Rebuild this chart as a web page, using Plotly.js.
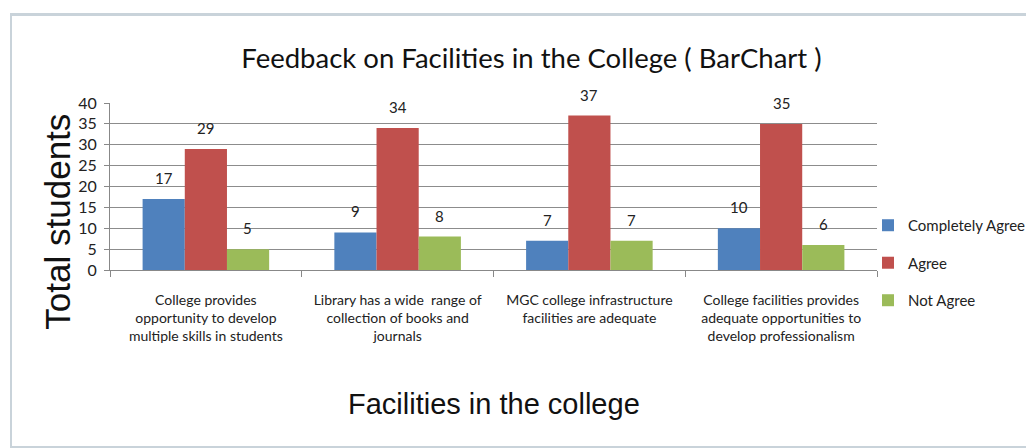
<!DOCTYPE html>
<html>
<head>
<meta charset="utf-8">
<script src="https://cdn.plot.ly/plotly-3.0.1.min.js"></script>
<style>
html,body{margin:0;padding:0;background:#fff;}
#wrap{position:relative;width:1026px;height:448px;overflow:hidden;}
#chart{width:1026px;height:448px;}
#frame{position:absolute;left:10px;top:13px;width:1030px;height:430px;border-top:3px solid #c9d3da;border-left:2px solid #c9d3da;border-bottom:2px solid #c9d3da;pointer-events:none;}
</style>
</head>
<body>
<div id="wrap"><div id="chart"></div><div id="frame"></div></div>
<script>
const categories = [
  "College provides<br>opportunity to develop<br>multiple skills in students",
  "Library has a wide  range of<br>collection of books and<br>journals",
  "MGC college infrastructure<br>facilities are adequate",
  "College facilities provides<br>adequate opportunities to<br>develop professionalism"
];
const seriesNames = ["Completely Agree", "Agree", "Not Agree"];
const completelyAgree = [17, 9, 7, 10];
const agree = [29, 34, 37, 35];
const notAgree = [5, 8, 7, 6];
const yTicks = [0, 5, 10, 15, 20, 25, 30, 35, 40];

const colors = ["#4F81BD", "#C0504D", "#9BBB59"];
const narrow = 'Lato, Roboto, sans-serif';
const seriesVals = [completelyAgree, agree, notAgree];

const traces = seriesVals.map((vals, i) => ({
  type: "bar",
  name: seriesNames[i],
  x: categories,
  y: vals,
  marker: {color: colors[i]},
  legendgroup: "g" + i
}));

const annotations = [];
const shifts = [-42, 0, 42];
seriesVals.forEach((vals, i) => {
  vals.forEach((v, j) => {
    annotations.push({
      x: categories[j], y: v, xref: "x", yref: "y",
      text: String(v), showarrow: false,
      xshift: shifts[i], yanchor: "bottom", yshift: 10,
      font: {family: narrow, size: 15, color: "#222"}
    });
  });
});
annotations.push({
  xref: "paper", yref: "paper", x: -0.069, y: 0.29,
  xanchor: "center", yanchor: "middle",
  text: "Total students", textangle: -90, showarrow: false,
  font: {family: "Liberation Sans, Arial, sans-serif", size: 35, color: "#111"}
});
annotations.push({
  xref: "paper", yref: "paper", x: 0.5, y: -0.80,
  xanchor: "center", yanchor: "middle",
  text: "Facilities in the college", showarrow: false,
  font: {family: "Liberation Sans, Arial, sans-serif", size: 29, color: "#111"}
});

const layout = {
  width: 1026, height: 448,
  margin: {l: 110, r: 149, t: 103, b: 178, autoexpand: false},
  paper_bgcolor: "rgba(0,0,0,0)",
  plot_bgcolor: "#fff",
  barmode: "group",
  bargap: 0.34,
  bargroupgap: 0,
  title: {
    text: "Feedback on Facilities in the College ( BarChart )",
    x: 0.518, xanchor: "center", y: 0.87, yanchor: "middle",
    xref: "container", yref: "container",
    font: {family: narrow, size: 27.5, color: "#111"}
  },
  xaxis: {
    type: "category",
    tickson: "boundaries",
    ticks: "outside", ticklen: 6, tickcolor: "#888",
    showline: true, linecolor: "#888", linewidth: 1,
    showgrid: false,
    tickangle: 0,
    ticklabelstandoff: 17,
    tickfont: {family: narrow, size: 14, color: "#222"}
  },
  yaxis: {
    range: [0, 40],
    tickvals: yTicks,
    ticks: "outside", ticklen: 5, tickcolor: "#888",
    showline: true, linecolor: "#888", linewidth: 1,
    showgrid: true, gridcolor: "#8c8c8c", gridwidth: 1,
    zeroline: false,
    ticklabelstandoff: 4,
    tickfont: {family: narrow, size: 16, color: "#222"}
  },
  showlegend: true,
  legend: {
    xref: "container", yref: "container",
    x: 0.846, xanchor: "left", y: 0.413, yanchor: "middle",
    font: {family: narrow, size: 15, color: "#222"},
    tracegroupgap: 15,
    itemwidth: 30,
    bgcolor: "rgba(0,0,0,0)"
  },
  annotations: annotations
};

Plotly.newPlot("chart", traces, layout, {displayModeBar: false, staticPlot: true});
</script>
</body>
</html>
